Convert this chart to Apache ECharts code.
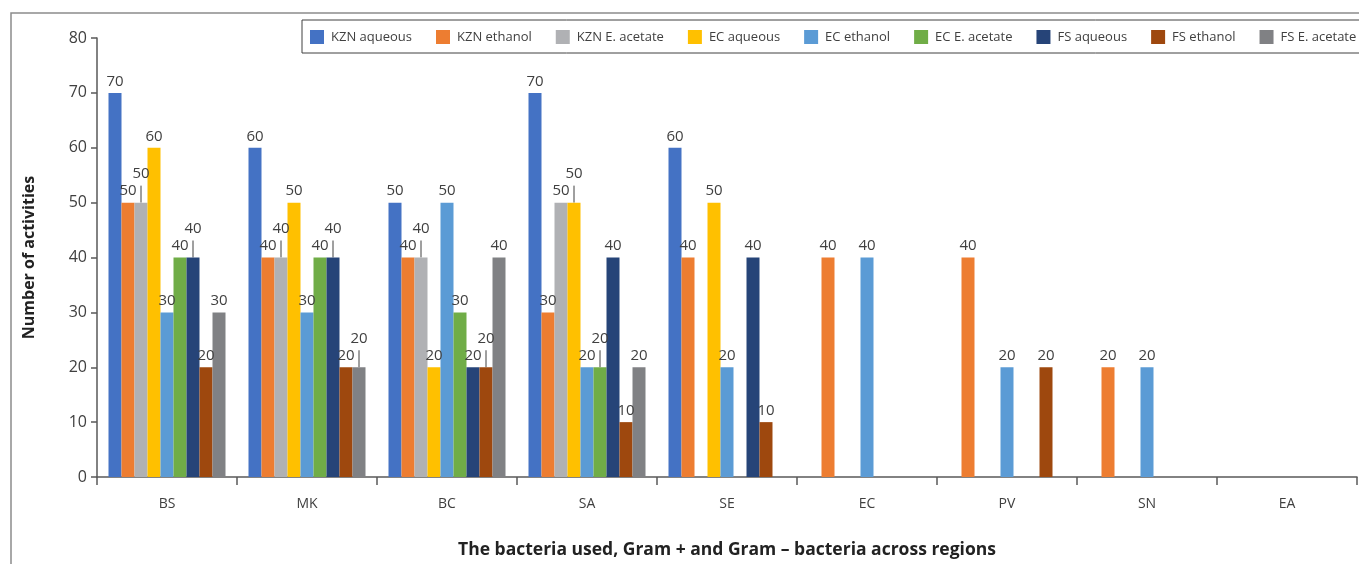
<!DOCTYPE html>
<html>
<head>
<meta charset="utf-8">
<script src="https://cdn.jsdelivr.net/npm/echarts@6/dist/echarts.min.js"></script>
<style>
  html, body { margin: 0; padding: 0; background: #fff; }
  #chart { width: 1359px; height: 564px; }
</style>
</head>
<body>
<div id="chart"></div>
<script>
const categories = ['BS', 'MK', 'BC', 'SA', 'SE', 'EC', 'PV', 'SN', 'EA']
const seriesNames = ['KZN aqueous', 'KZN ethanol', 'KZN E. acetate', 'EC aqueous', 'EC ethanol',
  'EC E. acetate', 'FS aqueous', 'FS ethanol', 'FS E. acetate']
const colors = ['#4472C4', '#ED7D31', '#B0B1B4', '#FFC000', '#5B9BD5', '#70AD47', '#264478', '#9E480E', '#808184']

// null = no bar in that group
const kznAqueous = [70, 60, 50, 70, 60, null, null, null, null]
const kznEthanol = [50, 40, 40, 30, 40, 40, 40, 20, null]
const kznAcetate = [50, 40, 40, 50, null, null, null, null, null]
const ecAqueous = [60, 50, 20, 50, 50, null, null, null, null]
const ecEthanol = [30, 30, 50, 20, 20, 40, 20, 20, null]
const ecAcetate = [40, 40, 30, 20, null, null, null, null, null]
const fsAqueous = [40, 40, 20, 40, 40, null, null, null, null]
const fsEthanol = [20, 20, 20, 10, 10, null, 20, null, null]
const fsAcetate = [30, 20, 40, 20, null, null, null, null, null]

const seriesValues = [kznAqueous, kznEthanol, kznAcetate, ecAqueous, ecEthanol,
  ecAcetate, fsAqueous, fsEthanol, fsAcetate]

const yTicks = { min: 0, max: 80, interval: 10 }

const textColor = '#404040'
const fontFamily = '"Open Sans", "Noto Sans", sans-serif'

const chart = echarts.init(document.getElementById('chart'), null, { renderer: 'canvas' })

// callout style labels: a label that hits an earlier label of the same group
// is pushed up and tied back to its bar with a thin line (like the Excel callouts)
const placedLabels = {}
function layoutLabel (p) {
  const r = p.labelRect
  const group = placedLabels[p.dataIndex] || (placedLabels[p.dataIndex] = {})
  const others = Object.keys(group).filter(s => +s < p.seriesIndex).map(s => group[s])
  let top = r.y
  let moved = true
  let guard = 0
  while (moved && guard++ < 30) {
    moved = false
    others.forEach(o => {
      if (r.x + 1 < o.x + o.w && r.x + r.width - 1 > o.x && top < o.y + o.h - 3 && top + r.height - 3 > o.y) {
        top = o.y - r.height + 3
        moved = true
      }
    })
  }
  group[p.seriesIndex] = { x: r.x, y: top, w: r.width, h: r.height }
  const dy = top - r.y
  const lx = r.x + 2
  if (dy < 0) {
    return {
      dy: dy,
      labelLinePoints: [[lx, p.rect.y], [lx, top + r.height - 3], [lx, top + r.height - 3]]
    }
  }
  return { dy: 0 }
}

const series = seriesNames.map((name, i) => ({
  name: name,
  type: 'bar',
  data: seriesValues[i],
  barWidth: 13,
  barGap: '0%',
  itemStyle: { color: colors[i] },
  label: {
    show: true,
    position: 'top',
    distance: 0,
    padding: [0, 0, 3, 0],
    color: textColor,
    fontSize: 15,
    lineHeight: 17,
    fontFamily: fontFamily
  },
  labelLine: {
    show: true,
    lineStyle: { color: textColor, width: 1 }
  },
  labelLayout: layoutLabel
}))

const option = {
  backgroundColor: '#fff',
  animation: false,
  textStyle: { fontFamily: fontFamily },
  graphic: [{
    type: 'rect',
    shape: { x: 11, y: 13, width: 1400, height: 600 },
    style: { fill: 'none', stroke: '#8c8c8c', lineWidth: 1.5 },
    z: -1
  }],
  legend: {
    left: 302,
    top: 20,
    width: 1100,
    orient: 'horizontal',
    itemWidth: 14,
    itemHeight: 14,
    itemGap: 24,
    padding: [10, 8, 9, 8],
    borderColor: '#404040',
    borderWidth: 1,
    backgroundColor: '#fff',
    icon: 'rect',
    textStyle: { color: textColor, fontSize: 13, fontFamily: fontFamily, padding: [0, 0, 0, 2] },
    data: seriesNames
  },
  grid: { left: 97, right: 2, top: 38, bottom: 83, containLabel: false },
  xAxis: {
    type: 'category',
    data: categories,
    name: 'The bacteria used, Gram + and Gram \u2013 bacteria across regions',
    nameLocation: 'middle',
    nameGap: 64,
    nameTextStyle: { color: '#222', fontSize: 17.5, fontWeight: 'bold', fontFamily: fontFamily },
    axisLine: { lineStyle: { color: '#595959', width: 1.5 } },
    axisTick: { show: true, length: 8, alignWithLabel: false, lineStyle: { color: '#595959', width: 1.5 } },
    axisLabel: { color: textColor, fontSize: 14, margin: 20, fontFamily: fontFamily }
  },
  yAxis: {
    type: 'value',
    min: yTicks.min,
    max: yTicks.max,
    interval: yTicks.interval,
    name: 'Number of activities',
    nameLocation: 'middle',
    nameGap: 60,
    nameTextStyle: { color: '#222', fontSize: 16, fontWeight: 'bold', fontFamily: fontFamily },
    axisLine: { show: true, lineStyle: { color: '#595959', width: 1.5 } },
    axisTick: { show: true, length: 6, lineStyle: { color: '#595959', width: 1.5 } },
    axisLabel: { color: textColor, fontSize: 16, margin: 10, fontFamily: fontFamily },
    splitLine: { show: false }
  },
  series: series
}

chart.setOption(option)
</script>
</body>
</html>
